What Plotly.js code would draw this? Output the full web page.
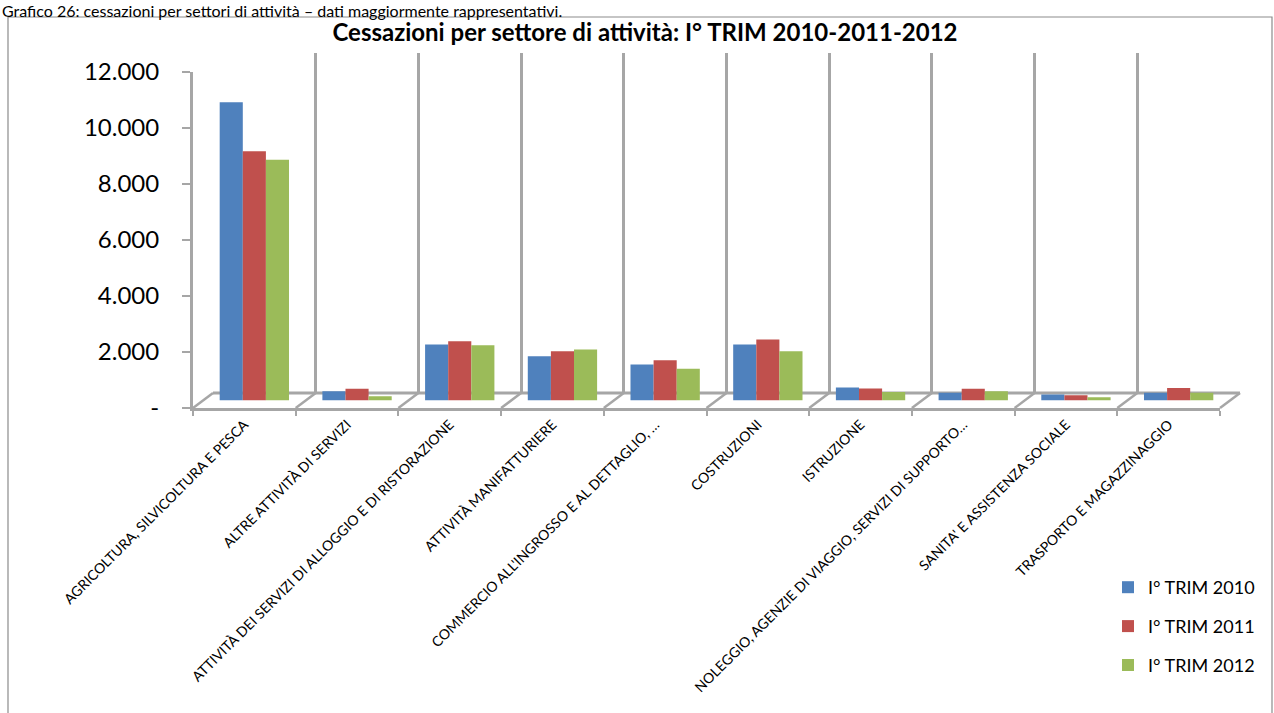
<!DOCTYPE html>
<html><head><meta charset="utf-8">
<script src="https://cdn.plot.ly/plotly-3.0.1.min.js"></script>
<style>html,body{margin:0;padding:0;background:#fff;}#chart{width:1274px;height:713px;}</style>
</head><body><div id="chart"></div>
<script>
const categories = [
  "AGRICOLTURA, SILVICOLTURA E PESCA",
  "ALTRE ATTIVITÀ DI SERVIZI",
  "ATTIVITÀ DEI SERVIZI DI ALLOGGIO E DI RISTORAZIONE",
  "ATTIVITÀ MANIFATTURIERE",
  "COMMERCIO ALL'INGROSSO E AL DETTAGLIO, …",
  "COSTRUZIONI",
  "ISTRUZIONE",
  "NOLEGGIO, AGENZIE DI VIAGGIO, SERVIZI DI SUPPORTO…",
  "SANITA' E ASSISTENZA SOCIALE",
  "TRASPORTO E MAGAZZINAGGIO"
];
const trim2010 = [10650, 330, 2000, 1580, 1290, 2000, 460, 280, 210, 280];
const trim2011 = [8900, 420, 2120, 1760, 1440, 2180, 430, 420, 190, 450];
const trim2012 = [8600, 150, 1970, 1820, 1130, 1760, 300, 330, 120, 280];
const seriesNames = ["I° TRIM 2010", "I° TRIM 2011", "I° TRIM 2012"];
const seriesColors = ["#4F81BD", "#C0504D", "#9BBB59"];
const yTickVals = [0, 2000, 4000, 6000, 8000, 10000, 12000];
const yTickText = ["-", "2.000", "4.000", "6.000", "8.000", "10.000", "12.000"];
const chartTitle = "Cessazioni per settore di attività: I° TRIM 2010-2011-2012";
const caption = "Grafico 26: cessazioni per settori di attività – dati maggiormente rappresentativi.";

// page geometry (pixels)
const W = 1274, H = 713;
const L = 193, R = 1240, T = 53, B = 408;
const PW = R - L, PH = B - T;
const px = x => (x - L) / PW;
const py = y => (B - y) / PH;

const FRONT = {x0: 193, x1: 1220, y: 408, top: 72};
const BACK = {x0: 213, x1: 1240, y: 393};
const MID = {x0: 203, x1: 1230, y0: 400.5, top: 64.5};
const GRID = "#A6A6A6";
const FONT = "Lato, 'Open Sans', sans-serif";

const series = [trim2010, trim2011, trim2012];
const traces = [];
// back wall (grid) subplot
traces.push({type: "scatter", x: [], y: [], xaxis: "x", yaxis: "y", showlegend: false, hoverinfo: "skip"});
// bars
series.forEach((vals, i) => {
  traces.push({
    type: "bar", x: categories, y: vals, name: seriesNames[i],
    marker: {color: seriesColors[i], line: {width: 0}},
    xaxis: "x2", yaxis: "y2", legendgroup: seriesNames[i]
  });
});
// front axes subplot
traces.push({type: "scatter", mode: "lines", x: categories, y: categories.map(() => null),
  xaxis: "x3", yaxis: "y3", showlegend: false, hoverinfo: "skip"});

const n = categories.length;
const shapes = [];
// back floor edge
shapes.push({type: "line", xref: "paper", yref: "paper", layer: "below",
  x0: px(BACK.x0), x1: px(BACK.x1), y0: py(BACK.y), y1: py(BACK.y),
  line: {color: GRID, width: 3}});
// floor diagonals
for (let k = 0; k <= n; k++) {
  const fx = FRONT.x0 + k * (FRONT.x1 - FRONT.x0) / n;
  const bx = BACK.x0 + k * (BACK.x1 - BACK.x0) / n;
  shapes.push({type: "line", xref: "paper", yref: "paper", layer: "below",
    x0: px(fx), x1: px(bx), y0: py(FRONT.y), y1: py(BACK.y),
    line: {color: GRID, width: 2.5}});
}
// outer frame
shapes.push({type: "rect", xref: "paper", yref: "paper", layer: "below",
  x0: px(8), x1: px(1272), y0: py(725), y1: py(17),
  line: {color: "#8C8C8C", width: 1.2}});

const layout = {
  width: W, height: H,
  margin: {l: L, r: W - R, t: T, b: H - B, pad: 0},
  paper_bgcolor: "#fff", plot_bgcolor: "rgba(0,0,0,0)",
  font: {family: FONT, color: "#000"},
  title: {text: chartTitle, font: {family: FONT, size: 24, color: "#000", weight: 700},
    xref: "container", yref: "container", x: 645 / W, y: 1 - 33 / H, xanchor: "center", yanchor: "middle"},
  showlegend: true,
  legend: {x: px(1108), y: py(569), xanchor: "left", yanchor: "top",
    font: {family: FONT, size: 18, color: "#000"}, tracegroupgap: 12.5,
    bgcolor: "rgba(0,0,0,0)", borderwidth: 0},
  bargap: 0.325, bargroupgap: 0, barmode: "group",
  xaxis: {domain: [px(BACK.x0), 1], anchor: "y", type: "linear", range: [0, n],
    tick0: 0, dtick: 1, showgrid: true, gridcolor: GRID, gridwidth: 3,
    showticklabels: false, ticks: "", zeroline: false, showline: false},
  yaxis: {domain: [py(BACK.y), 1], anchor: "x", range: [0, 1], showgrid: false,
    zeroline: false, showticklabels: false, ticks: "", showline: false},
  xaxis2: {domain: [px(MID.x0), px(MID.x1)], anchor: "y2", type: "category",
    range: [-0.5, n - 0.5], visible: false},
  yaxis2: {domain: [py(MID.y0), py(MID.top)], anchor: "x2", range: [0, 12000], visible: false},
  xaxis3: {domain: [0, px(FRONT.x1)], anchor: "y3", type: "category", range: [-0.5, n - 0.5],
    tickangle: -45, tickson: "boundaries", ticks: "outside", ticklen: 5, tickcolor: GRID, tickwidth: 2,
    showline: true, linecolor: GRID, linewidth: 3, showgrid: false, zeroline: false,
    tickfont: {family: FONT, size: 14, color: "#000"}},
  yaxis3: {domain: [0, py(FRONT.top)], anchor: "x3", range: [0, 12000],
    tickvals: yTickVals, ticktext: yTickText, ticks: "outside", ticklen: 8, tickcolor: GRID, tickwidth: 2,
    showline: true, linecolor: GRID, linewidth: 3, showgrid: false, zeroline: false,
    ticklabelstandoff: 18, tickfont: {family: FONT, size: 24, color: "#000"}},
  shapes: shapes,
  annotations: [{text: caption, xref: "paper", yref: "paper", x: px(0), y: py(-1),
    xanchor: "left", yanchor: "top", showarrow: false,
    font: {family: FONT, size: 16, color: "#000"}}]
};

Plotly.newPlot("chart", traces, layout, {displayModeBar: false, staticPlot: true});
</script>
</body></html>
